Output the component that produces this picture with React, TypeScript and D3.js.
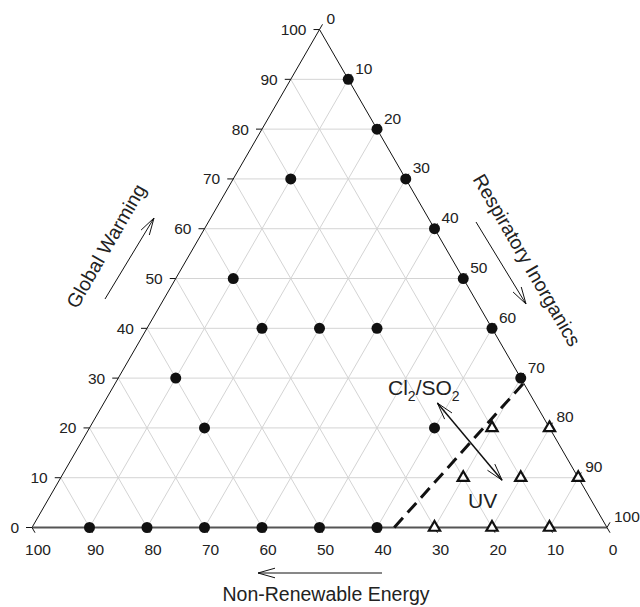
import React, { useEffect, useRef } from "react";
import * as d3 from "d3";

// ternary compositions: [Non-Renewable Energy, Global Warming, Respiratory Inorganics]
const circlePoints: number[][] = [
  [0, 90, 10], [0, 80, 20], [0, 70, 30], [0, 60, 40], [0, 50, 50], [0, 40, 60], [0, 30, 70],
  [20, 70, 10], [40, 50, 10], [40, 40, 20], [30, 40, 30], [20, 40, 40],
  [60, 30, 10], [60, 20, 20], [20, 20, 60],
  [90, 0, 10], [80, 0, 20], [70, 0, 30], [60, 0, 40], [50, 0, 50], [40, 0, 60],
];
const trianglePoints: number[][] = [
  [10, 20, 70], [0, 20, 80],
  [20, 10, 70], [10, 10, 80], [0, 10, 90],
  [30, 0, 70], [20, 0, 80], [10, 0, 90],
];
const boundary: number[][] = [[37, 0, 63], [0, 29, 71]];
const shiftArrow: number[][] = [[17, 25, 58], [13.5, 9.5, 77]];
const ticks = [0, 10, 20, 30, 40, 50, 60, 70, 80, 90, 100];
const axisTitles = ["Global Warming", "Respiratory Inorganics", "Non-Renewable Energy"];

const W = 640;
const H = 607;

export default function App() {
  const ref = useRef<SVGSVGElement>(null);

  useEffect(() => {
    const svg = d3.select(ref.current);
    svg.selectAll("*").remove();

    const left = 32;
    const side = 575;
    const bottom = 527.5;
    const tri = (side * Math.sqrt(3)) / 2;

    const x = d3.scaleLinear().domain([0, 100]).range([left, left + side]);
    const y = d3.scaleLinear().domain([0, 100]).range([bottom, bottom - tri]);
    const proj = (p: number[]): [number, number] => [x(p[2] + p[1] / 2), y(p[1])];

    const font = "'Liberation Sans', Arial, sans-serif";
    const txt = "#222";

    // grid
    const grid = svg.append("g").attr("stroke", "#d4d4d4").attr("stroke-width", 1);
    ticks.slice(1, -1).forEach((k) => {
      const segs = [
        [[100 - k, k, 0], [0, k, 100 - k]],
        [[100 - k, 0, k], [0, 100 - k, k]],
        [[k, 0, 100 - k], [k, 100 - k, 0]],
      ];
      segs.forEach(([a, b]) => {
        const [x1, y1] = proj(a);
        const [x2, y2] = proj(b);
        grid.append("line").attr("x1", x1).attr("y1", y1).attr("x2", x2).attr("y2", y2);
      });
    });

    // outline
    const A = proj([100, 0, 0]);
    const Bv = proj([0, 0, 100]);
    const T = proj([0, 100, 0]);
    svg.append("line").attr("x1", A[0]).attr("y1", A[1]).attr("x2", T[0]).attr("y2", T[1])
      .attr("stroke", "#111").attr("stroke-width", 1);
    svg.append("line").attr("x1", T[0]).attr("y1", T[1]).attr("x2", Bv[0]).attr("y2", Bv[1])
      .attr("stroke", "#111").attr("stroke-width", 1);
    svg.append("line").attr("x1", A[0]).attr("y1", A[1]).attr("x2", Bv[0]).attr("y2", Bv[1])
      .attr("stroke", "#555").attr("stroke-width", 2);

    // ticks + labels
    const axes = svg.append("g").attr("font-family", font).attr("font-size", 15.5).attr("fill", txt);
    ticks.forEach((t) => {
      // left: global warming
      const [lx, ly] = proj([100 - t, t, 0]);
      axes.append("line").attr("x1", lx).attr("y1", ly).attr("x2", lx - 6).attr("y2", ly)
        .attr("stroke", "#111");
      axes.append("text").attr("x", lx - 13).attr("y", ly).attr("dy", "0.35em")
        .attr("text-anchor", "end").text(t);
      // bottom: non-renewable
      const [bx, by] = proj([t, 0, 100 - t]);
      axes.append("line").attr("x1", bx).attr("y1", by).attr("x2", bx + 3).attr("y2", by + 5.2)
        .attr("stroke", "#111");
      axes.append("text").attr("x", bx + 6).attr("y", by + 22).attr("dy", "0.35em")
        .attr("text-anchor", "middle").text(t);
      // right: respiratory
      const [rx, ry] = proj([0, 100 - t, t]);
      axes.append("line").attr("x1", rx).attr("y1", ry).attr("x2", rx + 3).attr("y2", ry - 5.2)
        .attr("stroke", "#111");
      axes.append("text").attr("x", rx + 7).attr("y", ry - 11).attr("dy", "0.35em")
        .attr("text-anchor", "start").text(t);
    });

    // dashed boundary
    svg.append("path")
      .attr("d", d3.line()(boundary.map(proj)))
      .attr("fill", "none").attr("stroke", "#111").attr("stroke-width", 3)
      .attr("stroke-dasharray", "13 7");

    // markers
    svg.append("g").selectAll("circle").data(circlePoints).join("circle")
      .attr("cx", (d) => proj(d)[0]).attr("cy", (d) => proj(d)[1])
      .attr("r", 5.5).attr("fill", "#111");

    const triSym = d3.symbol().type(d3.symbolTriangle).size(55);
    svg.append("g").selectAll("path").data(trianglePoints).join("path")
      .attr("d", triSym)
      .attr("transform", (d) => `translate(${proj(d)[0]},${proj(d)[1]})`)
      .attr("fill", "#fff").attr("stroke", "#111").attr("stroke-width", 2.2);

    // arrow helper (open heads)
    const head = (g: any, tip: [number, number], from: [number, number], len = 17, half = 4.8) => {
      const dx = tip[0] - from[0];
      const dy = tip[1] - from[1];
      const l = Math.hypot(dx, dy);
      const ux = dx / l, uy = dy / l;
      const bx = tip[0] - ux * len, by = tip[1] - uy * len;
      const px = -uy * half, py = ux * half;
      g.append("path")
        .attr("d", `M${bx + px},${by + py}L${tip[0]},${tip[1]}L${bx - px},${by - py}`)
        .attr("fill", "none").attr("stroke", "#111").attr("stroke-width", 1);
    };
    const arrow = (a: [number, number], b: [number, number], both = false, sw = 1) => {
      const g = svg.append("g");
      g.append("line").attr("x1", a[0]).attr("y1", a[1]).attr("x2", b[0]).attr("y2", b[1])
        .attr("stroke", "#111").attr("stroke-width", sw);
      head(g, b, a);
      if (both) head(g, a, b);
      return g;
    };

    // Cl2/SO2 <-> UV arrow
    arrow(proj(shiftArrow[0]), proj(shiftArrow[1]), true, 1.5);

    const anno = svg.append("g").attr("font-family", font).attr("fill", txt);
    const cl = anno.append("text").attr("x", 388).attr("y", 395).attr("font-size", 21);
    cl.append("tspan").text("Cl");
    cl.append("tspan").attr("font-size", 14).attr("dy", 6).text("2");
    cl.append("tspan").attr("dy", -6).text("/SO");
    cl.append("tspan").attr("font-size", 14).attr("dy", 6).text("2");
    anno.append("text").attr("x", 468).attr("y", 508).attr("font-size", 21).text("UV");

    // axis titles
    const titles = svg.append("g").attr("font-family", font).attr("font-size", 19.5).attr("fill", txt)
      .attr("text-anchor", "middle");
    titles.append("text").attr("transform", "translate(106,246) rotate(-60)").attr("dy", "0.35em")
      .text(axisTitles[0]);
    titles.append("text").attr("transform", "translate(527,260) rotate(60)").attr("dy", "0.35em")
      .text(axisTitles[1]);
    titles.append("text").attr("x", 326).attr("y", 601).text(axisTitles[2]);

    arrow([105, 299], [154, 218]);
    arrow([476, 222], [526, 304]);
    arrow([382, 573], [258, 573]);
  }, []);

  return (
    <svg
      ref={ref}
      width={W}
      height={H}
      style={{ position: "absolute", left: 0, top: 0, background: "#fff" }}
    />
  );
}
